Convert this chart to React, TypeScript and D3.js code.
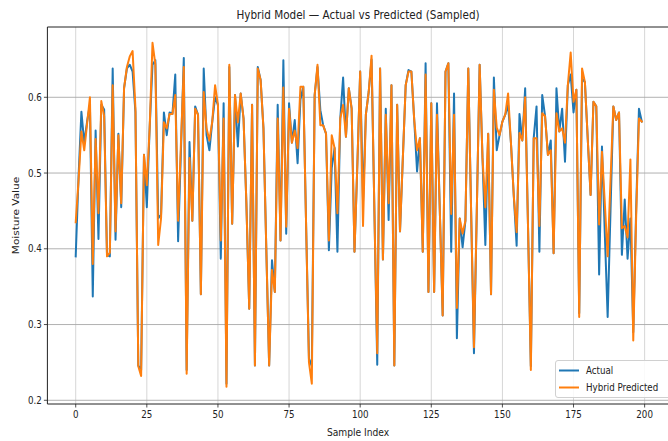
import React from "react";
import * as d3 from "d3";

const actual: number[] = [
  0.390, 0.495, 0.581, 0.540, 0.568, 0.590, 0.337, 0.556, 0.413, 0.590,
  0.584, 0.392, 0.390, 0.638, 0.412, 0.552, 0.455, 0.612, 0.638, 0.643,
  0.634, 0.580, 0.246, 0.240, 0.524, 0.455, 0.560, 0.643, 0.649, 0.440,
  0.445, 0.580, 0.550, 0.580, 0.578, 0.630, 0.410, 0.530, 0.652, 0.240,
  0.541, 0.437, 0.588, 0.577, 0.340, 0.638, 0.550, 0.530, 0.568, 0.600,
  0.590, 0.387, 0.592, 0.222, 0.640, 0.433, 0.603, 0.535, 0.605, 0.572,
  0.460, 0.321, 0.590, 0.246, 0.640, 0.623, 0.559, 0.400, 0.246, 0.385,
  0.343, 0.590, 0.411, 0.649, 0.420, 0.592, 0.540, 0.570, 0.513, 0.597,
  0.614, 0.430, 0.255, 0.245, 0.603, 0.640, 0.583, 0.563, 0.552, 0.398,
  0.507, 0.533, 0.396, 0.572, 0.626, 0.548, 0.612, 0.585, 0.396, 0.510,
  0.634, 0.462, 0.577, 0.607, 0.650, 0.450, 0.247, 0.638, 0.386, 0.585,
  0.438, 0.616, 0.246, 0.590, 0.423, 0.520, 0.616, 0.636, 0.634, 0.570,
  0.502, 0.546, 0.396, 0.645, 0.343, 0.592, 0.343, 0.592, 0.450, 0.312,
  0.634, 0.645, 0.396, 0.605, 0.282, 0.440, 0.402, 0.437, 0.638, 0.450,
  0.262, 0.450, 0.643, 0.520, 0.405, 0.552, 0.340, 0.626, 0.530, 0.550,
  0.568, 0.577, 0.590, 0.540, 0.470, 0.404, 0.578, 0.543, 0.612, 0.430,
  0.245, 0.546, 0.588, 0.396, 0.603, 0.575, 0.524, 0.543, 0.394, 0.612,
  0.555, 0.585, 0.515, 0.616, 0.630, 0.580, 0.610, 0.315, 0.625, 0.620,
  0.545, 0.471, 0.594, 0.588, 0.366, 0.535, 0.420, 0.310, 0.450, 0.588,
  0.570, 0.580, 0.392, 0.465, 0.387, 0.440, 0.290, 0.450, 0.585, 0.568,
];

const predicted: number[] = [
  0.435, 0.490, 0.555, 0.530, 0.565, 0.600, 0.380, 0.545, 0.447, 0.595,
  0.575, 0.390, 0.395, 0.616, 0.423, 0.550, 0.460, 0.612, 0.640, 0.654,
  0.661, 0.585, 0.245, 0.232, 0.524, 0.484, 0.560, 0.672, 0.643, 0.405,
  0.440, 0.567, 0.559, 0.578, 0.578, 0.603, 0.437, 0.540, 0.640, 0.235,
  0.520, 0.437, 0.585, 0.577, 0.340, 0.607, 0.559, 0.543, 0.568, 0.616,
  0.590, 0.411, 0.572, 0.218, 0.643, 0.433, 0.603, 0.567, 0.605, 0.572,
  0.460, 0.321, 0.590, 0.246, 0.638, 0.623, 0.559, 0.400, 0.246, 0.372,
  0.343, 0.572, 0.411, 0.613, 0.429, 0.585, 0.540, 0.556, 0.533, 0.614,
  0.614, 0.430, 0.250, 0.222, 0.603, 0.643, 0.563, 0.563, 0.552, 0.411,
  0.550, 0.533, 0.447, 0.572, 0.590, 0.548, 0.612, 0.585, 0.396, 0.510,
  0.634, 0.430, 0.577, 0.607, 0.655, 0.450, 0.262, 0.638, 0.386, 0.577,
  0.460, 0.616, 0.246, 0.590, 0.423, 0.520, 0.616, 0.634, 0.634, 0.570,
  0.530, 0.546, 0.396, 0.630, 0.343, 0.592, 0.343, 0.577, 0.450, 0.312,
  0.634, 0.645, 0.446, 0.577, 0.322, 0.440, 0.420, 0.437, 0.638, 0.450,
  0.270, 0.450, 0.643, 0.520, 0.455, 0.552, 0.340, 0.610, 0.560, 0.550,
  0.568, 0.577, 0.605, 0.540, 0.470, 0.422, 0.553, 0.543, 0.600, 0.430,
  0.240, 0.546, 0.546, 0.430, 0.579, 0.575, 0.524, 0.530, 0.394, 0.579,
  0.555, 0.559, 0.540, 0.616, 0.659, 0.594, 0.610, 0.310, 0.638, 0.620,
  0.545, 0.471, 0.594, 0.588, 0.432, 0.528, 0.460, 0.390, 0.490, 0.588,
  0.570, 0.580, 0.427, 0.430, 0.415, 0.518, 0.279, 0.440, 0.572, 0.568,
];

const xTicks: number[] = [0, 25, 50, 75, 100, 125, 150, 175, 200];
const yTicks: number[] = [0.2, 0.3, 0.4, 0.5, 0.6];
const seriesNames: string[] = ["Actual", "Hybrid Predicted"];
const colors: string[] = ["#1f77b4", "#ff7f0e"];

const W = 668;
const H = 441;
const FONT = "DejaVu Sans, sans-serif";
const SX = 0.87;

const T: React.FC<{ x: number; y: number; size: number; anchor?: string; rotate?: number; fill?: string; children: React.ReactNode }> = ({ x, y, size, anchor = "middle", rotate = 0, fill = "#222", children }) => (
  <text
    transform={`translate(${x},${y}) rotate(${rotate}) scale(${rotate ? 1 : SX},${rotate ? SX : 1})`}
    textAnchor={anchor}
    fontFamily={FONT}
    fontSize={size}
    fill={fill}
  >
    {children}
  </text>
);

export default function App() {
  const x = d3.scaleLinear().domain([-9.95, 208.95]).range([47.4, 670.1]);
  const y = d3.scaleLinear().domain([0.1951, 0.6928]).range([404, 27]);
  const left = x(-9.95);
  const right = x(208.95);
  const top = y(0.6928);
  const bottom = y(0.1951);

  const line = d3
    .line<number>()
    .x((_, i) => x(i))
    .y((d) => y(d));

  const series = [actual, predicted];

  return (
    <svg
      width={W}
      height={H}
      style={{ position: "absolute", left: 0, top: 0, background: "#fff" }}
    >
      <rect x={0} y={0} width={W} height={H} fill="#fff" />
      <defs>
        <clipPath id="plot">
          <rect x={left} y={top} width={right - left} height={bottom - top} />
        </clipPath>
      </defs>
      {/* grid */}
      {xTicks.map((t) => (
        <line key={"gx" + t} x1={x(t)} x2={x(t)} y1={top} y2={bottom} stroke="#d6d6d6" strokeWidth={1} />
      ))}
      {yTicks.map((t) => (
        <line key={"gy" + t} x1={left} x2={right} y1={y(t)} y2={y(t)} stroke="#a8a8a8" strokeWidth={0.9} />
      ))}
      {/* series */}
      <g clipPath="url(#plot)">
        {series.map((s, k) => (
          <path
            key={k}
            d={line(s) || ""}
            fill="none"
            stroke={colors[k]}
            strokeWidth={2}
            strokeLinejoin="round"
            strokeLinecap="square"
          />
        ))}
      </g>
      {/* spines */}
      <line x1={left} x2={left} y1={top} y2={bottom} stroke="#222" strokeWidth={1} />
      <line x1={left} x2={right} y1={bottom} y2={bottom} stroke="#222" strokeWidth={1} />
      <line x1={left} x2={right} y1={top} y2={top} stroke="#222" strokeWidth={1} />
      {/* ticks */}
      {xTicks.map((t) => (
        <g key={"tx" + t}>
          <line x1={x(t)} x2={x(t)} y1={bottom} y2={bottom + 3.5} stroke="#222" strokeWidth={0.8} />
          <T x={x(t)} y={bottom + 14} size={10}>{String(t)}</T>
        </g>
      ))}
      {yTicks.map((t) => (
        <g key={"ty" + t}>
          <line x1={left - 3.5} x2={left} y1={y(t)} y2={y(t)} stroke="#222" strokeWidth={0.8} />
          <T x={left - 5.5} y={y(t) + 3.6} size={10} anchor="end">{t.toFixed(1)}</T>
        </g>
      ))}
      {/* labels */}
      <T x={358} y={19} size={12}>Hybrid Model — Actual vs Predicted (Sampled)</T>
      <T x={358} y={436} size={10.5}>Sample Index</T>
      <T x={19} y={215.5} size={10.5} rotate={-90}>Moisture Value</T>
      {/* legend */}
      <g>
        <rect x={555.5} y={360.5} width={118} height={37} rx={2.5} fill="#fff" fillOpacity={0.85} stroke="#d0d0d0" strokeWidth={1} />
        {seriesNames.map((n, k) => (
          <g key={n}>
            <line x1={559} x2={579} y1={370.5 + k * 17} y2={370.5 + k * 17} stroke={colors[k]} strokeWidth={2} />
            <T x={586} y={374 + k * 17} size={10} anchor="start">{n}</T>
          </g>
        ))}
      </g>
    </svg>
  );
}
